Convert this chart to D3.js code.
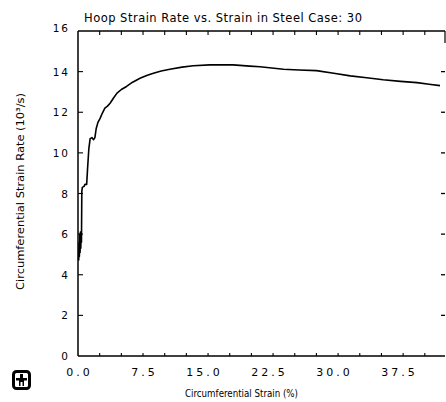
<!DOCTYPE html>
<html><head><meta charset="utf-8">
<script src="https://cdn.jsdelivr.net/npm/d3@7"></script>
<style>body{margin:0;background:#fff}svg{display:block}text{font-family:"DejaVu Sans",sans-serif;fill:#000}</style>
</head><body>
<script>
const strain = [0.08,0.12,0.16,0.2,0.24,0.28,0.32,0.36,0.40,0.44,0.5,0.7,0.8,1.0,1.1,1.25,1.4,1.6,1.8,1.95,2.1,2.3,2.55,2.8,3.1,3.4,3.7,4.1,4.5,5.0,5.6,6.3,7.15,8.0,8.7,9.6,10.6,12.0,13.3,15.2,17.9,19.8,21.0,23.7,25.5,27.5,29.5,31.4,33.3,35.2,37.2,39.1,40.5,41.75];
const rate = [4.7,5.6,4.9,6.0,5.1,6.1,5.3,6.0,5.6,8.1,8.3,8.35,8.45,8.45,9.2,10.2,10.7,10.75,10.65,10.75,11.2,11.5,11.7,11.95,12.2,12.3,12.44,12.7,12.94,13.12,13.27,13.48,13.67,13.82,13.92,14.03,14.12,14.22,14.29,14.33,14.33,14.27,14.24,14.12,14.08,14.05,13.92,13.79,13.7,13.6,13.52,13.46,13.38,13.31];
const xTickLabels = ["0.0","7.5","15.0","22.5","30.0","37.5"];
const xTickValues = [0,7.5,15,22.5,30,37.5];
const xMinorTicks = [2.5,5,7.5,10,12.5,15,17.5,20,22.5,25,27.5,30,32.5,35,37.5,40];
const yTickValues = [0,2,4,6,8,10,12,14,16];
const title = "Hoop Strain Rate vs. Strain in Steel Case: 30";
const xTitle = "Circumferential Strain (%)";
const yTitle = "Circumferential Strain Rate (10\u00B3/s)";

const W = 446, H = 402;
const L = 78, R = 445, T = 31, B = 356;
const svg = d3.select("body").append("svg").attr("width", W).attr("height", H);
const x = d3.scaleLinear().domain([0, 42.33]).range([L, R]);
const y = d3.scaleLinear().domain([0, 16]).range([B, T]);

// frame
const g = svg.append("g").attr("stroke", "#000").attr("fill", "none");
g.append("line").attr("x1", L).attr("x2", L).attr("y1", T).attr("y2", B).attr("stroke-width", 1.5);
g.append("line").attr("x1", L).attr("x2", R).attr("y1", B).attr("y2", B).attr("stroke-width", 1.3);
g.append("line").attr("x1", L).attr("x2", R).attr("y1", T).attr("y2", T).attr("stroke-width", 1.3);
g.append("line").attr("x1", R).attr("x2", R).attr("y1", T).attr("y2", T + 12).attr("stroke-width", 1.2);

// x ticks (top and bottom)
xMinorTicks.forEach(v => {
  g.append("line").attr("x1", x(v)).attr("x2", x(v)).attr("y1", B).attr("y2", B - 3).attr("stroke-width", 1.1);
  g.append("line").attr("x1", x(v)).attr("x2", x(v)).attr("y1", T).attr("y2", T + 4).attr("stroke-width", 1.1);
});
// y ticks left and right
yTickValues.slice(1, -1).forEach(v => {
  g.append("line").attr("x1", L).attr("x2", L + 5).attr("y1", y(v)).attr("y2", y(v)).attr("stroke-width", 1.1);
  g.append("line").attr("x1", R - 4).attr("x2", R).attr("y1", y(v)).attr("y2", y(v)).attr("stroke-width", 1.3);
});

// tick labels
svg.selectAll(".xl").data(xTickValues).enter().append("text")
  .attr("x", (d, i) => x(d) + 1.5 - (xTickLabels[i].length > 3 ? 5 : 0)).attr("y", 376)
  .attr("text-anchor", "middle").attr("font-size", 11).attr("letter-spacing", 3)
  .text((d, i) => xTickLabels[i]);
svg.selectAll(".yl").data(yTickValues).enter().append("text")
  .attr("x", 70).attr("y", d => y(d) + 4 - (d === 16 ? 3 : 0))
  .attr("text-anchor", "end").attr("font-size", 10.5).attr("letter-spacing", 2)
  .text(d => d);

// titles
svg.append("text").attr("x", 84).attr("y", 22).attr("font-size", 11.5)
  .attr("textLength", 278).attr("lengthAdjust", "spacing").text(title);
svg.append("text").attr("x", 185).attr("y", 397).attr("font-size", 10.5)
  .attr("textLength", 113).attr("lengthAdjust", "spacingAndGlyphs").text(xTitle);
svg.append("text").attr("transform", "translate(24,290) rotate(-90)").attr("font-size", 10.5)
  .attr("textLength", 197).attr("lengthAdjust", "spacingAndGlyphs").text(yTitle);

// curve
const pts = strain.map((s, i) => [s, rate[i]]);
svg.append("path").datum(pts)
  .attr("d", d3.line().x(d => x(d[0])).y(d => y(d[1])))
  .attr("fill", "none").attr("stroke", "#000").attr("stroke-width", 1.6).attr("stroke-linejoin", "round");

// logo
const lg = svg.append("g").attr("transform", "translate(12,370)");
lg.append("rect").attr("x", 1.5).attr("y", 1.5).attr("width", 16).attr("height", 17).attr("rx", 3)
  .attr("fill", "none").attr("stroke", "#000").attr("stroke-width", 3);
lg.append("path").attr("d", "M4 8 H15 V10.5 H12 V16 H10.5 V12 H8.5 V16 H7 V10.5 H4 Z M8 4 H11 V8 H8 Z").attr("fill", "#000");
</script>
</body></html>
